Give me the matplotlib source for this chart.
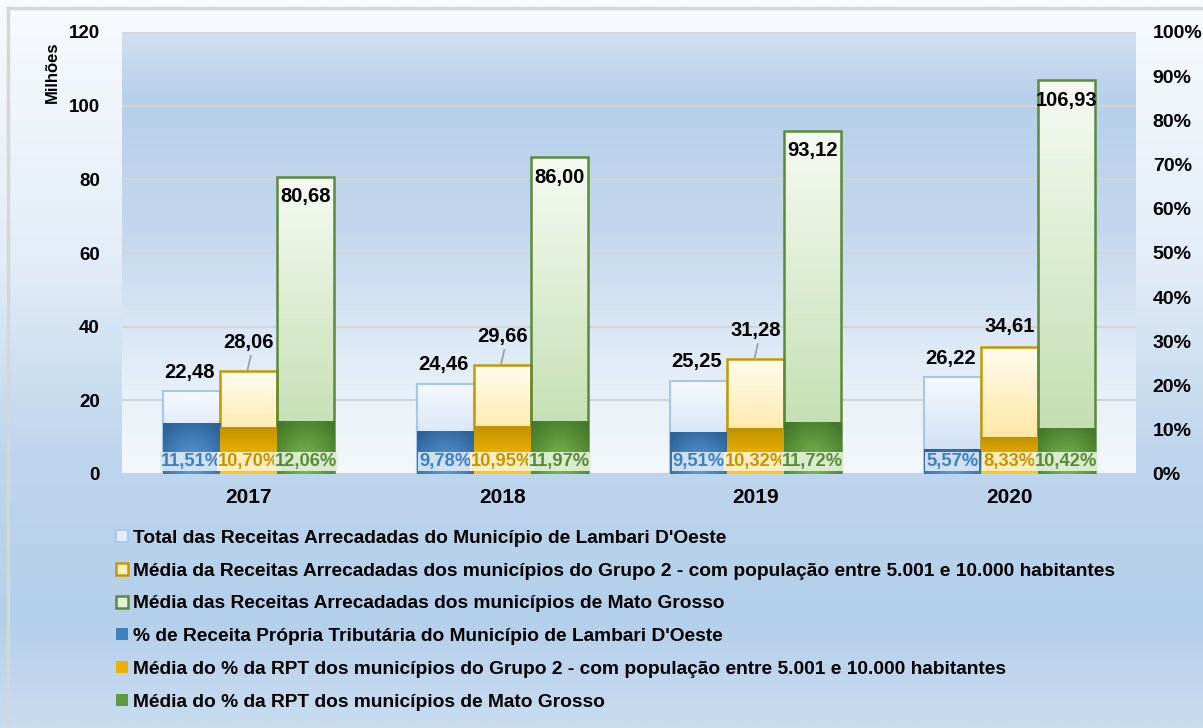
import numpy as np
import matplotlib
matplotlib.use("Agg")
import matplotlib.pyplot as plt
from matplotlib.colors import to_rgb
from matplotlib.patches import Patch
from matplotlib.lines import Line2D
from matplotlib.ticker import FixedLocator

plt.rcParams['font.family'] = ['Liberation Sans', 'DejaVu Sans']
plt.rcParams['font.weight'] = 'bold'

# ---------------- data ----------------
years = ['2017', '2018', '2019', '2020']
total_mun = [22.48, 24.46, 25.25, 26.22]
media_g2 = [28.06, 29.66, 31.28, 34.61]
media_mt = [80.68, 86.00, 93.12, 106.93]
pct_mun = [11.51, 9.78, 9.51, 5.57]
pct_g2 = [10.70, 10.95, 10.32, 8.33]
pct_mt = [12.06, 11.97, 11.72, 10.42]
left_ticks = [0, 20, 40, 60, 80, 100, 120]
right_ticks = [0, 10, 20, 30, 40, 50, 60, 70, 80, 90, 100]
labels = [
    "Total das Receitas Arrecadadas do Município de Lambari D'Oeste",
    "Média da Receitas Arrecadadas dos municípios do Grupo 2 - com população entre 5.001 e 10.000 habitantes",
    "Média das Receitas Arrecadadas dos municípios de Mato Grosso",
    "% de Receita Própria Tributária do Município de Lambari D'Oeste",
    "Média do % da RPT dos municípios do Grupo 2 - com população entre 5.001 e 10.000 habitantes",
    "Média do % da RPT dos municípios de Mato Grosso",
]

W, H = 1203, 728
fig = plt.figure(figsize=(W / 100, H / 100), dpi=100)


def vgrad(stops, n=256):
    pos = np.array([s[0] for s in stops])
    cols = np.array([to_rgb(s[1]) for s in stops])
    t = np.linspace(0, 1, n)
    arr = np.stack([np.interp(t, pos, cols[:, k]) for k in range(3)], axis=-1)
    return arr[:, None, :]


# figure background gradient
bg = fig.add_axes([0, 0, 1, 1], zorder=-10)
bg.imshow(vgrad([(0, '#f8fafd'), (0.35, '#e3edf7'), (0.62, '#bed6ed'),
                 (0.85, '#b4cfea'), (1.0, '#c9dcf0')]),
          aspect='auto', extent=[0, 1, 0, 1], origin='upper')
bg.add_line(Line2D([8 / W, 1], [1 - 8 / H, 1 - 8 / H], color='#d6d6d6', lw=2.5))
bg.add_line(Line2D([8 / W, 8 / W], [0, 1 - 8 / H], color='#d6d6d6', lw=2.5))
bg.set_xlim(0, 1)
bg.set_ylim(0, 1)
bg.axis('off')

ax = fig.add_axes([122 / W, 1 - 474 / H, (1136 - 122) / W, (474 - 32) / H])
ax.set_facecolor('none')
ax.set_xlim(-0.5, 3.5)
ax.set_ylim(0, 120)
ax.imshow(vgrad([(0, '#cfe0f1'), (0.15, '#b6d0ea'), (0.45, '#c3d8ee'),
                 (0.8, '#e6eff8'), (1.0, '#f4f8fc')]),
          aspect='auto', extent=[-0.5, 3.5, 0, 120], origin='upper', zorder=-5)

for g in left_ticks:
    ax.axhline(g, color='#d4d4d4', lw=1.6, zorder=0)

bw = 0.225
x = np.arange(len(years))


def grad_bars(axis, xs, hs, img, edge, lw):
    bars = axis.bar(xs, hs, width=bw, facecolor='none', edgecolor=edge, lw=lw, zorder=3)
    for b in bars:
        x0, y0 = b.get_x(), b.get_y()
        im = axis.imshow(img, aspect='auto', origin='upper',
                         extent=[x0, x0 + b.get_width(), y0, y0 + b.get_height()],
                         zorder=2, interpolation='bilinear')
        im.set_clip_path(b)
    return bars


def radial(dark, light, ny=60, nx=30):
    yy, xx = np.mgrid[0:1:ny * 1j, 0:1:nx * 1j]
    d = np.sqrt(((xx - 0.5) / 0.7) ** 2 + ((yy - 0.85) / 1.0) ** 2)
    f = np.clip(1 - d, 0, 1)[..., None]
    return np.array(to_rgb(dark)) * (1 - f) + np.array(to_rgb(light)) * f


grad_bars(ax, x - bw, total_mun, vgrad([(0, '#f6f9fe'), (1, '#c3d9f0')]), '#a4c8ea', 1.5)
grad_bars(ax, x, media_g2, vgrad([(0, '#fffcf0'), (1, '#ffdf85')]), '#c49a00', 1.8)
grad_bars(ax, x + bw, media_mt, vgrad([(0, '#f6faf3'), (0.6, '#d3e8c6'), (1, '#bddcaa')]), '#5a8a3a', 1.8)

ax.set_xticks(x)
ax.set_xticklabels(years, fontsize=15, fontweight='bold')
ax.yaxis.set_major_locator(FixedLocator(left_ticks))
ax.tick_params(axis='y', length=0, pad=16, labelsize=13.5)
ax.tick_params(axis='x', length=0, pad=10)
for s in ax.spines.values():
    s.set_visible(False)


def fmt(v):
    return f"{v:.2f}".replace('.', ',')


VAL_FS = 14.5
for i in range(len(years)):
    ax.text(x[i] - bw - 0.008, total_mun[i] + 5.2, fmt(total_mun[i]), ha='center', va='center',
            fontsize=VAL_FS, fontweight='bold', zorder=6)
    off = 7.7 if i < 3 else 5.4
    ax.text(x[i], media_g2[i] + off, fmt(media_g2[i]), ha='center', va='center',
            fontsize=VAL_FS, fontweight='bold', zorder=6)
    if i < 3:
        ax.plot([x[i] - 0.004, x[i] + 0.008], [media_g2[i] + 0.4, media_g2[i] + 4.0],
                color='#a0a0a0', lw=1.3, zorder=6)
    ax.text(x[i] + bw, media_mt[i] - 5.4, fmt(media_mt[i]), ha='center', va='center',
            fontsize=VAL_FS, fontweight='bold', zorder=6)

# secondary axis (percent)
ax2 = ax.twinx()
ax2.set_ylim(0, 100)
ax2.set_xlim(-0.5, 3.5)
ax2.yaxis.set_major_locator(FixedLocator(right_ticks))
ax2.set_yticklabels([f"{t}%" for t in right_ticks])
ax2.tick_params(axis='y', length=0, pad=12, labelsize=14)
for s in ax2.spines.values():
    s.set_visible(False)

grad_bars(ax2, x - bw, pct_mun, radial('#2c6399', '#5e9fdb'), 'none', 0)
grad_bars(ax2, x, pct_g2, vgrad([(0, '#c09000'), (0.5, '#e4ac00'), (1, '#ffc81e')]), 'none', 0)
grad_bars(ax2, x + bw, pct_mt, radial('#457a2b', '#7dbb52'), 'none', 0)

pct_styles = [(pct_mun, -bw, '#3b80c3', '#dce8f5'),
              (pct_g2, 0, '#c49500', '#fff3cf'),
              (pct_mt, bw, '#548c36', '#e3f0da')]
for vals, dx, tc, fc in pct_styles:
    for i, v in enumerate(vals):
        ax2.text(x[i] + dx, 2.85, f"{v:.2f}%".replace('.', ','), ha='center', va='center',
                 fontsize=13.2, fontweight='bold', color=tc, zorder=7,
                 bbox=dict(boxstyle='square,pad=0.05', facecolor=fc, edgecolor='none', alpha=0.92))

fig.text(52 / W, 1 - 72 / H, 'Milhões', rotation=90, ha='center', va='center',
         fontsize=12, fontweight='bold')

# legend
handles = [Patch(facecolor='#e3eef9', edgecolor='#a8c9e8', lw=1.5),
           Patch(facecolor='#fff0bf', edgecolor='#c49a00', lw=1.8),
           Patch(facecolor='#e4f0da', edgecolor='#5a8a3a', lw=1.8),
           Patch(facecolor='#3f80c0', edgecolor='none'),
           Patch(facecolor='#eeb000', edgecolor='none'),
           Patch(facecolor='#5d9a3c', edgecolor='none')]
leg = fig.legend(handles, labels, loc='upper left', bbox_to_anchor=(116 / W, 1 - 530 / H),
                 frameon=False, prop={'weight': 'bold', 'size': 13.8},
                 handlelength=0.6, handleheight=0.6, handletextpad=0.3,
                 labelspacing=0.82, borderaxespad=0, borderpad=0)

fig.savefig('out.png', dpi=100)
